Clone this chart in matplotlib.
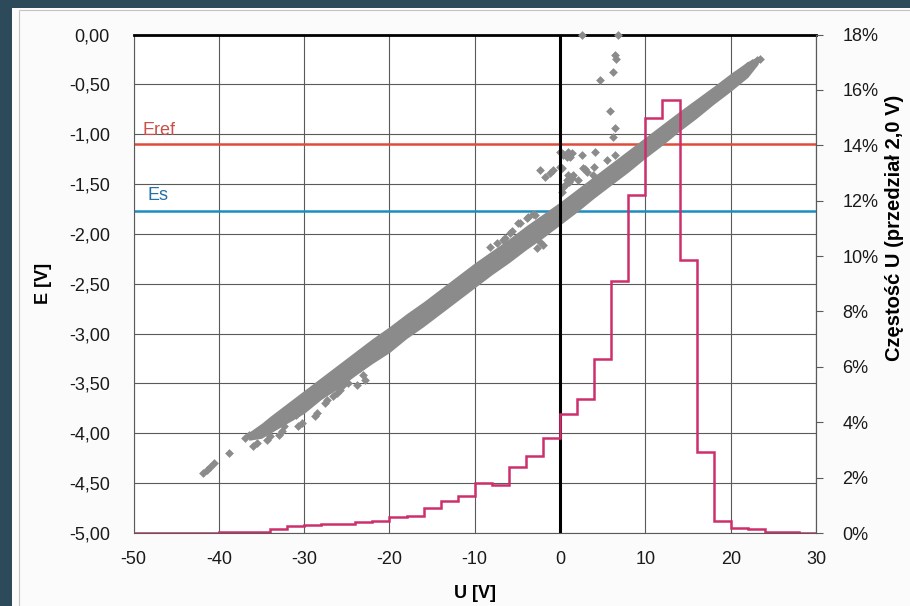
import matplotlib
matplotlib.use("Agg")
import matplotlib.pyplot as plt
from matplotlib.patches import Rectangle
from matplotlib.ticker import FuncFormatter

plt.rcParams['font.family'] = ['Liberation Sans', 'DejaVu Sans']
plt.rcParams['axes.unicode_minus'] = False

# Frequency of U in 2 V classes [%]
hist_edges = list(range(-50, 31, 2))
hist_pct = [0, 0, 0, 0, 0,
            0.02, 0.03, 0.05, 0.13, 0.26, 0.29, 0.32, 0.33, 0.40, 0.44,
            0.59, 0.60, 0.91, 1.14, 1.34, 1.79, 1.72, 2.39, 2.79, 3.42,
            4.30, 4.83, 6.27, 9.11, 12.20, 14.97, 15.63, 9.86, 2.91, 0.44,
            0.19, 0.13, 0.05, 0.03, 0.01]

# Dense part of the E(U) cloud: upper and lower envelope
band_u = [-36.5, -35, -34, -32, -30, -28, -26, -24, -22, -20, -18, -16, -14, -12, -10,
          -8, -6, -4, -2, 0, 2, 4, 6, 8, 10, 12, 14, 16, 18, 20, 22, 23.2]
band_hi = [-3.99, -3.90, -3.83, -3.70, -3.57, -3.44, -3.31, -3.18, -3.05, -2.93,
           -2.80, -2.68, -2.55, -2.42, -2.29, -2.17, -2.05, -1.92, -1.80, -1.68,
           -1.55, -1.42, -1.29, -1.16, -1.03, -0.90, -0.77, -0.645, -0.52, -0.39,
           -0.27, -0.22]
band_lo = [-4.07, -4.05, -4.00, -3.90, -3.80, -3.66, -3.55, -3.42, -3.30, -3.19,
           -3.05, -2.93, -2.80, -2.67, -2.54, -2.41, -2.29, -2.16, -2.04, -1.91,
           -1.78, -1.64, -1.51, -1.38, -1.24, -1.11, -0.97, -0.84, -0.70, -0.57,
           -0.43, -0.30]

# Scattered measurements outside the dense part
pts_u = [-41.8, -41.4, -41.0, -40.6, -38.8, -36.9, -36.5, -35.95, -35.55, -34.4,
         -34.0, -33.0, -32.6, -33.4, -32.4, -30.7, -30.3, -31.45, -30.9, -28.7,
         -28.5, -29.7, -27.5, -27.35, -26.6, -26.2, -25.8, -25.4, -24.8, -23.8,
         -22.9, -23.1, -24.0, -23.45, -25.4, -25.0,
         -8.2, -7.42, -6.65, -6.45, -5.86, -5.66, -4.9, -4.69, -3.9, -3.7, -3.13, -2.93,
         -2.66, -2.35, -1.96,
         -2.35, -1.76, -1.17, -0.78, 0.0, 0.0, 0.2, 0.2, 0.2, 0.39, 0.39, 0.59, 0.78,
         0.78, 0.97, 0.97, 1.1, 1.17, 1.37, 1.37, 1.56, 2.15, 2.54, 2.7, 2.93, 3.1,
         3.9, 3.98, 4.1, 5.47, 6.45, 6.25, 6.45, 5.86, 4.69, 6.25, 6.45, 6.6,
         2.6, 6.76, 21.9, 22.5, 23.06, 23.4]
pts_e = [-4.40, -4.37, -4.335, -4.30, -4.20, -4.05, -4.02, -4.13, -4.10, -4.07,
         -4.03, -4.02, -3.98, -3.92, -3.93, -3.93, -3.90, -3.83, -3.82, -3.83,
         -3.80, -3.73, -3.70, -3.67, -3.63, -3.60, -3.57, -3.52, -3.50, -3.52,
         -3.47, -3.42, -3.38, -3.35, -3.45, -3.415,
         -2.13, -2.09, -2.06, -2.04, -1.99, -1.97, -1.89, -1.89, -1.84, -1.83, -1.80, -1.81,
         -2.14, -2.08, -2.11,
         -1.36, -1.43, -1.39, -1.36, -1.175, -1.325, -1.19, -1.34, -1.58, -1.21, -1.53, -1.51, -1.225,
         -1.46, -1.175, -1.41, -1.48, -1.225, -1.19, -1.44, -1.41, -1.46, -1.21, -1.34, -1.35, -1.376,
         -1.41, -1.325, -1.175, -1.26, -1.21, -1.03, -0.94, -0.77, -0.46, -0.38, -0.205, -0.25,
         0.0, 0.0, -0.32, -0.29, -0.255, -0.25]

E_REF = -1.10
E_S = -1.77

u_ticks = list(range(-50, 31, 10))
e_ticks = [0.0, -0.5, -1.0, -1.5, -2.0, -2.5, -3.0, -3.5, -4.0, -4.5, -5.0]
pct_ticks = list(range(0, 19, 2))

grey = '#8b8b8b'
pink = '#cc2f6c'

fig = plt.figure(figsize=(9.1, 6.06), dpi=100)
fig.patch.set_facecolor('#2d4a5a')
fig.patches.append(Rectangle((12 / 910, 0), 1, 1 - 8 / 606, transform=fig.transFigure,
                             facecolor='#fbfbfb', edgecolor='none', zorder=-10))
fig.patches.append(Rectangle((19 / 910, -0.1), 1, 1.1 - 10 / 606, transform=fig.transFigure,
                             fill=False, edgecolor='#c4c4c4', lw=0.8, zorder=-9))

ax = fig.add_axes([133.5 / 910, 1 - 533 / 606, (816 - 133.5) / 910, (533 - 34.5) / 606])
ax.set_facecolor('white')
ax.set_xlim(-50, 30)
ax.set_ylim(-5, 0)
ax.set_xticks(u_ticks)
ax.set_yticks(e_ticks)
ax.yaxis.set_major_formatter(FuncFormatter(lambda v, p: f'{v:.2f}'.replace('.', ',')))
ax.grid(True, color='#5a5a5a', lw=0.8)
ax.set_axisbelow(True)
ax.tick_params(length=0, labelsize=13, colors='#1a1a1a')
ax.tick_params(axis='y', pad=17)
ax.tick_params(axis='x', pad=13)
for s in ['left', 'bottom', 'right']:
    ax.spines[s].set_color('#5a5a5a')
    ax.spines[s].set_linewidth(0.8)
ax.spines['top'].set_color('black')
ax.spines['top'].set_linewidth(2)

# reference levels
ax.axhline(E_REF, color='#df4d3a', lw=1.8, zorder=2)
ax.axhline(E_S, color='#1d8cc0', lw=1.8, zorder=2)
ax.text(-48.9, E_REF + 0.05, 'Eref', color='#c9514a', fontsize=13, va='bottom')
ax.text(-48.4, E_S + 0.07, 'Es', color='#2270a8', fontsize=13, va='bottom')

# E(U) cloud
ax.fill_between(band_u, band_lo, band_hi, color=grey, lw=0, zorder=3)
ax.scatter(pts_u, pts_e, marker='D', s=20, color=grey, lw=0, zorder=3, clip_on=False)

ax.axvline(0, color='black', lw=2.2, zorder=4)

ax.set_xlabel('U [V]', fontsize=13, fontweight='bold')
ax.xaxis.set_label_coords(0.5, -0.105)
ax.set_ylabel('E [V]', fontsize=13, fontweight='bold')
ax.yaxis.set_label_coords(-0.119, 0.5)

# histogram of U on the secondary axis
ax2 = ax.twinx()
ax2.set_ylim(0, 18)
ax2.set_yticks(pct_ticks)
ax2.yaxis.set_major_formatter(FuncFormatter(lambda v, p: f'{v:.0f}%'))
ax2.stairs(hist_pct, hist_edges, color=pink, lw=1.8, zorder=5)
ax2.tick_params(axis='y', direction='out', length=5, width=0.8, color='#5a5a5a',
                labelsize=13, pad=14, labelcolor='#1a1a1a')
for s in ['left', 'bottom', 'top']:
    ax2.spines[s].set_visible(False)
ax2.spines['right'].set_color('#5a5a5a')
ax2.spines['right'].set_linewidth(0.8)

fig.text(894 / 910, 1 - 228 / 606, 'Częstość U (przedział 2,0 V)', rotation=90,
         ha='center', va='center', fontsize=14.5, fontweight='bold')

fig.savefig('out.png', dpi=100, facecolor=fig.get_facecolor())
